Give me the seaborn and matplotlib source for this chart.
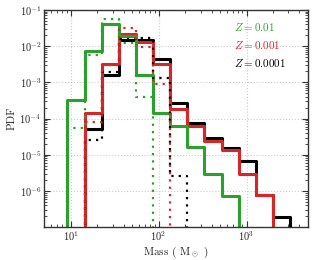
import numpy as np
import pandas as pd
import matplotlib
matplotlib.use("Agg")
import matplotlib.pyplot as plt
import seaborn as sns

# bin edges (Msun) shared by every histogram
mass_edges = [9.17, 14.4, 22.5, 35.2, 55.2, 86.4, 135, 212, 332, 520, 813, 1274, 1995, 3126]

# solid lines
pdf_z001 = [3.2e-4, 7.5e-3, 4.1e-2, 1.9e-2, 1.6e-3, 1.4e-4, 6.2e-5, 1.6e-5, 2.9e-6, 7.4e-7, 0, 0, 0]
pdf_z0001 = [0, 1.45e-4, 3.2e-3, 2.2e-2, 1.3e-2, 3.2e-3, 1.8e-4, 6.2e-5, 2.4e-5, 1.35e-5, 2.9e-6, 7.6e-7, 0]
pdf_z00001 = [0, 5.1e-5, 1.6e-3, 1.5e-2, 1.5e-2, 4.4e-3, 2.7e-4, 7.6e-5, 3.0e-5, 1.5e-5, 6.8e-6, 7.6e-7, 1.9e-7]

# dotted lines
alt_z001 = [5.6e-5, 5.8e-3, 5.6e-2, 1.2e-2, 3.9e-4, 0, 0, 0, 0, 0, 0, 0, 0]
alt_z0001 = [0, 8.2e-5, 3.0e-3, 3.2e-2, 9.3e-3, 9.0e-4, 0, 0, 0, 0, 0, 0, 0]
alt_z00001 = [0, 2.6e-5, 1.9e-3, 1.6e-2, 1.7e-2, 1.3e-3, 2.6e-6, 0, 0, 0, 0, 0, 0]

labels = ['$Z = 0.01$', '$Z = 0.001$', '$Z = 0.0001$']
colors = ['#2ca02c', '#d62728', 'black']

sns.set_style("ticks")
plt.rcParams['font.family'] = ['cmr10', 'DejaVu Serif']
plt.rcParams['mathtext.fontset'] = 'cm'
plt.rcParams['axes.formatter.use_mathtext'] = True


def step_frame(vals):
    # add a floor point at both ends so the outline drops to the bottom
    tiny = 1e-12
    x = [mass_edges[0]] + list(mass_edges)
    y = [tiny] + [v if v > 0 else tiny for v in vals] + [tiny]
    return pd.DataFrame({'mass': x, 'pdf': y})


fig, ax = plt.subplots(figsize=(3.13, 2.6), dpi=100)
fig.subplots_adjust(left=0.141, right=0.984, top=0.962, bottom=0.127)

solid = [pdf_z001, pdf_z0001, pdf_z00001]
dotted = [alt_z001, alt_z0001, alt_z00001]

handles = [None] * 3
for i in [2, 1, 0]:
    sns.lineplot(data=step_frame(solid[i]), x='mass', y='pdf', ax=ax, color=colors[i],
                 lw=2.2, drawstyle='steps-post', sort=False, estimator=None, legend=False)
    handles[i] = ax.lines[-1]
for i in [2, 1, 0]:
    sns.lineplot(data=step_frame(dotted[i]), x='mass', y='pdf', ax=ax, color=colors[i],
                 lw=1.6, drawstyle='steps-post', sort=False, estimator=None, legend=False,
                 linestyle=(0, (1, 2.3)))

ax.set_xscale('log')
ax.set_yscale('log')
ax.set_xlim(5, 5000)
ax.set_ylim(1.02e-7, 1e-1)
ax.set_xlabel(r'Mass ( M$_\odot$ )', fontsize=8, labelpad=1)
ax.set_ylabel('PDF', fontsize=8, labelpad=2)
ax.grid(True, which='major', color='#cccccc', linestyle=':', lw=0.8)
ax.tick_params(which='both', direction='in', top=True, right=True, labelsize=7.5,
               color='#333333', pad=2)
ax.tick_params(which='major', length=4, width=0.8)
ax.tick_params(which='minor', length=2, width=0.6)
ax.xaxis.set_minor_locator(matplotlib.ticker.LogLocator(base=10, subs=np.arange(2, 10), numticks=20))
ax.yaxis.set_minor_locator(matplotlib.ticker.LogLocator(base=10, subs=np.arange(2, 10), numticks=20))
ax.xaxis.set_minor_formatter(matplotlib.ticker.NullFormatter())
ax.yaxis.set_minor_formatter(matplotlib.ticker.NullFormatter())
ax.yaxis.set_major_locator(matplotlib.ticker.LogLocator(base=10, numticks=20))
for s in ax.spines.values():
    s.set_color('#333333')
    s.set_linewidth(1.0)

leg = ax.legend(handles, labels, loc='upper left', bbox_to_anchor=(0.72, 0.95),
                frameon=False, handlelength=0, handletextpad=0, borderpad=0,
                borderaxespad=0, labelspacing=0.55, fontsize=8, labelcolor='linecolor')

fig.savefig('out.png', dpi=100)
